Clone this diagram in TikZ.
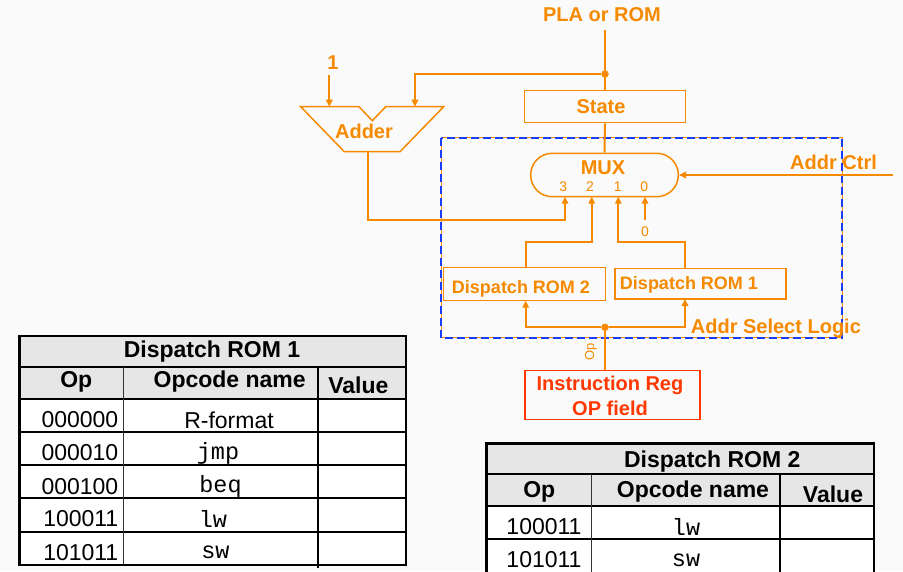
\documentclass[tikz,border=0pt]{standalone}
\usepackage{fontspec}
\setmainfont{Liberation Sans}
\setmonofont{Liberation Mono}
\usetikzlibrary{arrows.meta,calc}
\definecolor{org}{RGB}{245,138,0}
\definecolor{irred}{RGB}{255,55,0}
\definecolor{dblue}{RGB}{25,60,255}
\definecolor{bgc}{RGB}{250,250,250}
\definecolor{hdr}{RGB}{230,230,230}
\begin{document}
\begin{tikzpicture}[x=1pt,y=-1pt,
  wire/.style={draw=org, line width=2pt},
  arr/.style={wire, -{Triangle[length=7pt,width=6.5pt]}},
  obox/.style={draw=org, line width=1.5pt, inner sep=0},
  olab/.style={text=org, font=\fontsize{20}{24}\selectfont\bfseries, inner sep=0},
  osmall/.style={text=org, font=\fontsize{14}{16}\selectfont, inner sep=0},
  jdot/.style={circle, fill=org, inner sep=0, minimum size=7.5pt},
  tline/.style={line width=2pt, draw=black},
  ttext/.style={font=\fontsize{23}{26}\selectfont, inner sep=0},
  thead/.style={font=\fontsize{23}{26}\selectfont\bfseries, inner sep=0},
  tmono/.style={font=\fontsize{23.5}{26}\selectfont\ttfamily, inner sep=0}]
\useasboundingbox (0,0) rectangle (903,571);
\fill[bgc] (0,0) rectangle (903,571);

% ---- top part ----
\node[olab] (pla) at (602,15) {PLA or ROM};
\coordinate (plaTop) at (605,30);
\node[jdot] (jt) at (605,74) {};
\node[obox, minimum width=161pt, minimum height=32pt] (state) at (605,106.7) {};
\node[olab] (statet) at (601,107) {State};

% adder
\draw[org, line width=1.5pt] (300.7,106.7) -- (359,106.7) -- (372.3,120.7) -- (385.7,106.7)
   -- (443.7,106.7) -- (400,151.7) -- (344.3,151.7) -- cycle;
\node[olab] (adder) at (364,131) {Adder};
\node[olab] (one) at (333,63) {1};
\coordinate (oneTop) at (329.3,75);
\coordinate (in1) at (329.3,106.7);
\coordinate (in2) at (415,106.7);
\coordinate (aout) at (367.7,151.7);

% dashed box
\draw[org, line width=1pt] (441,137.5) rectangle (842,337.5);
\draw[dblue, line width=2pt, dash pattern=on 8pt off 4pt] (441,137.5) rectangle (842,337.5);

% mux
\node[obox, rounded corners=21.5pt, minimum width=147.6pt, minimum height=43.4pt] (mux) at (604.5,175) {};
\node[olab] (muxt) at (603,167.5) {MUX};
\node[osmall] (n3) at (563.3,186.5) {3};
\node[osmall] (n2) at (590,186.5) {2};
\node[osmall] (n1) at (617.7,186.5) {1};
\node[osmall] (n0) at (644.3,186.5) {0};
\coordinate (m3) at (565,196.7);
\coordinate (m2) at (591.7,196.7);
\coordinate (m1) at (618.3,196.7);
\coordinate (m0) at (645,196.7);

% dispatch roms
\node[obox, minimum width=162.4pt, minimum height=33pt] (rom2) at (524.5,284.2) {};
\node[olab, font=\fontsize{18}{22}\selectfont\bfseries] (rom2t) at (521,288.5) {Dispatch ROM 2};
\node[obox, minimum width=171pt, minimum height=30.7pt] (rom1) at (700.5,283.7) {};
\node[olab, font=\fontsize{18}{22}\selectfont\bfseries] (rom1t) at (689,284.5) {Dispatch ROM 1};
\coordinate (r2top) at (525.7,267.7);
\coordinate (r2bot) at (525.7,300.7);
\coordinate (r1top) at (685,268.3);
\coordinate (r1bot) at (685,299);

\node[osmall] (zero) at (645,232) {0};
\coordinate (zeroTop) at (645,220);

\node[olab, anchor=west] (actrl) at (790,162) {Addr Ctrl};
\coordinate (actrlIn) at (893,175);
\node[olab, anchor=west] (asl) at (690.7,328) {Addr Select Logic};

\node[jdot] (jb) at (605,327.3) {};
\node[draw=irred, line width=1.5pt, inner sep=0, minimum width=175pt, minimum height=48.6pt] (ir) at (612.5,395) {};
\node[text=irred, font=\fontsize{20}{25}\selectfont\bfseries, align=center, inner sep=0] (irt) at (610,396) {Instruction Reg\\OP field};
\node[rotate=90, osmall, font=\fontsize{13}{14}\selectfont] (opl) at (591,352) {Op};

% connectors
\draw[wire] (plaTop) -- (state.north);
\draw[arr] (jt) -- (415,74) -- (in2);
\draw[arr] (oneTop) -- (in1);
\draw[wire] (state.south) -- (mux.north);
\draw[arr] (aout) -- (367.7,220) -- (565,220) -- (m3);
\draw[arr] (r2top) -- (525.7,241.7) -- (591.7,241.7) -- (m2);
\draw[arr] (r1top) -- (685,241.7) -- (618.3,241.7) -- (m1);
\draw[arr] (zeroTop) -- (m0);
\draw[arr] (actrlIn) -- (mux.east);
\draw[arr] (jb) -- (525.7,327.3) -- (r2bot);
\draw[arr] (jb) -- (685,327.3) -- (r1bot);
\draw[wire] (jb) -- (jb |- ir.north);

% ---- table 1 ----
\fill[hdr] (19.3,336) rectangle (406,399.3);
\fill[white] (19.3,399.3) rectangle (406,565);
\foreach \yy in {366.7,399.3,431.7,465,498.3,531.7}
  \draw[tline] (19.3,\yy) -- (406,\yy);
\draw[line width=1pt, draw=black!80] (123.3,366.7) -- (123.3,565);
\draw[tline] (318.3,366.7) -- (318.3,568);
\draw[line width=2.5pt] (19.3,336) rectangle (406,565);
\node[thead] (t1h) at (212,351.5) {Dispatch ROM 1};
\node[thead] (t1op) at (76.3,381.5) {Op};
\node[thead] (t1on) at (229.7,381.5) {Opcode name};
\node[thead] (t1v) at (358.3,385) {Value};
\node[ttext, anchor=east] (t1a) at (118.5,420) {000000};
\node[ttext, anchor=east] (t1b) at (118.5,453) {000010};
\node[ttext, anchor=east] (t1c) at (118.5,486.7) {000100};
\node[ttext, anchor=east] (t1d) at (118.5,519) {100011};
\node[ttext, anchor=east] (t1e) at (118.5,552.7) {101011};
\node[ttext] (t1f) at (229,420) {R-format};
\node[tmono] (t1g) at (218,453) {jmp};
\node[tmono] (t1i) at (220.5,486.7) {beq};
\node[tmono] (t1j) at (213,519) {lw};
\node[tmono] (t1k) at (215.5,552.7) {sw};

% ---- table 2 ----
\fill[hdr] (486.7,443.3) rectangle (874,505.7);
\fill[white] (486.7,505.7) rectangle (874,573);
\foreach \yy in {474.3,505.7,539}
  \draw[tline] (486.7,\yy) -- (874,\yy);
\draw[line width=1pt, draw=black!80] (591,474.3) -- (591,573);
\draw[tline] (780,474.3) -- (780,573);
\draw[line width=2.5pt] (486.7,574) -- (486.7,443.3) -- (874,443.3) -- (874,574);
\node[thead] (t2h) at (712.3,461.7) {Dispatch ROM 2};
\node[thead] (t2op) at (539.3,491.5) {Op};
\node[thead] (t2on) at (693,491.5) {Opcode name};
\node[thead] (t2v) at (833,494) {Value};
\node[ttext, anchor=east] (t2a) at (581.7,526.7) {100011};
\node[ttext, anchor=east] (t2b) at (581.7,560) {101011};
\node[tmono] (t2c) at (686,526.7) {lw};
\node[tmono] (t2d) at (686,560) {sw};
\end{tikzpicture}
\end{document}
